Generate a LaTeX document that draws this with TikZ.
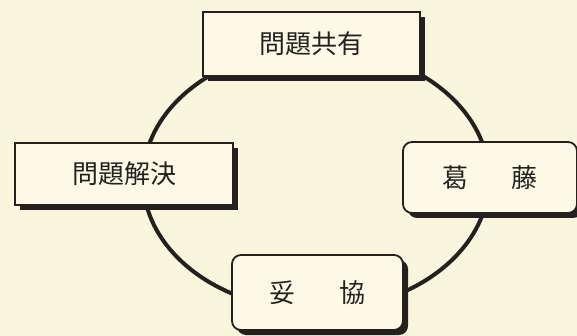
\documentclass[tikz,border=0pt]{standalone}
\usepackage{fontspec}
\newfontfamily\cjk{Noto Sans CJK JP}
\usetikzlibrary{shadows}
\definecolor{paper}{RGB}{250,246,222}
\definecolor{boxfill}{RGB}{252,249,230}
\definecolor{ink}{RGB}{35,32,30}
\tikzset{
  stage/.style={draw=ink, line width=1.8pt, fill=boxfill, inner sep=0pt,
    text=ink, font=\cjk\fontsize{26}{26}\selectfont,
    drop shadow={shadow xshift=5pt, shadow yshift=-5pt, fill=ink, opacity=1}},
  sharpbox/.style={stage},
  roundbox/.style={stage, rounded corners=9pt},
  ring/.style={draw=ink, line width=4pt}
}
\begin{document}
\begin{tikzpicture}[x=1pt, y=-1pt]
  \fill[paper] (0,0) rectangle (577,336);
  \useasboundingbox (0,0) rectangle (577,336);
  \coordinate (c) at (316,179);
  \draw[ring] (c) ellipse [x radius=173, y radius=131];
  \node[sharpbox, minimum width=217pt, minimum height=64pt] (share) at (311.5,44) {\raisebox{-3pt}{問題共有}};
  \node[sharpbox, minimum width=218pt, minimum height=62pt] (solve) at (124,174) {\raisebox{-4pt}{問題解決}};
  \node[roundbox, minimum width=174pt, minimum height=71pt] (conflict) at (490,177.5) {\raisebox{-4pt}{葛\hspace{43pt}藤}};
  \node[roundbox, minimum width=171pt, minimum height=75pt] (compromise) at (317.5,292.5) {\raisebox{-3pt}{妥\hspace{44pt}協}};
\end{tikzpicture}
\end{document}
